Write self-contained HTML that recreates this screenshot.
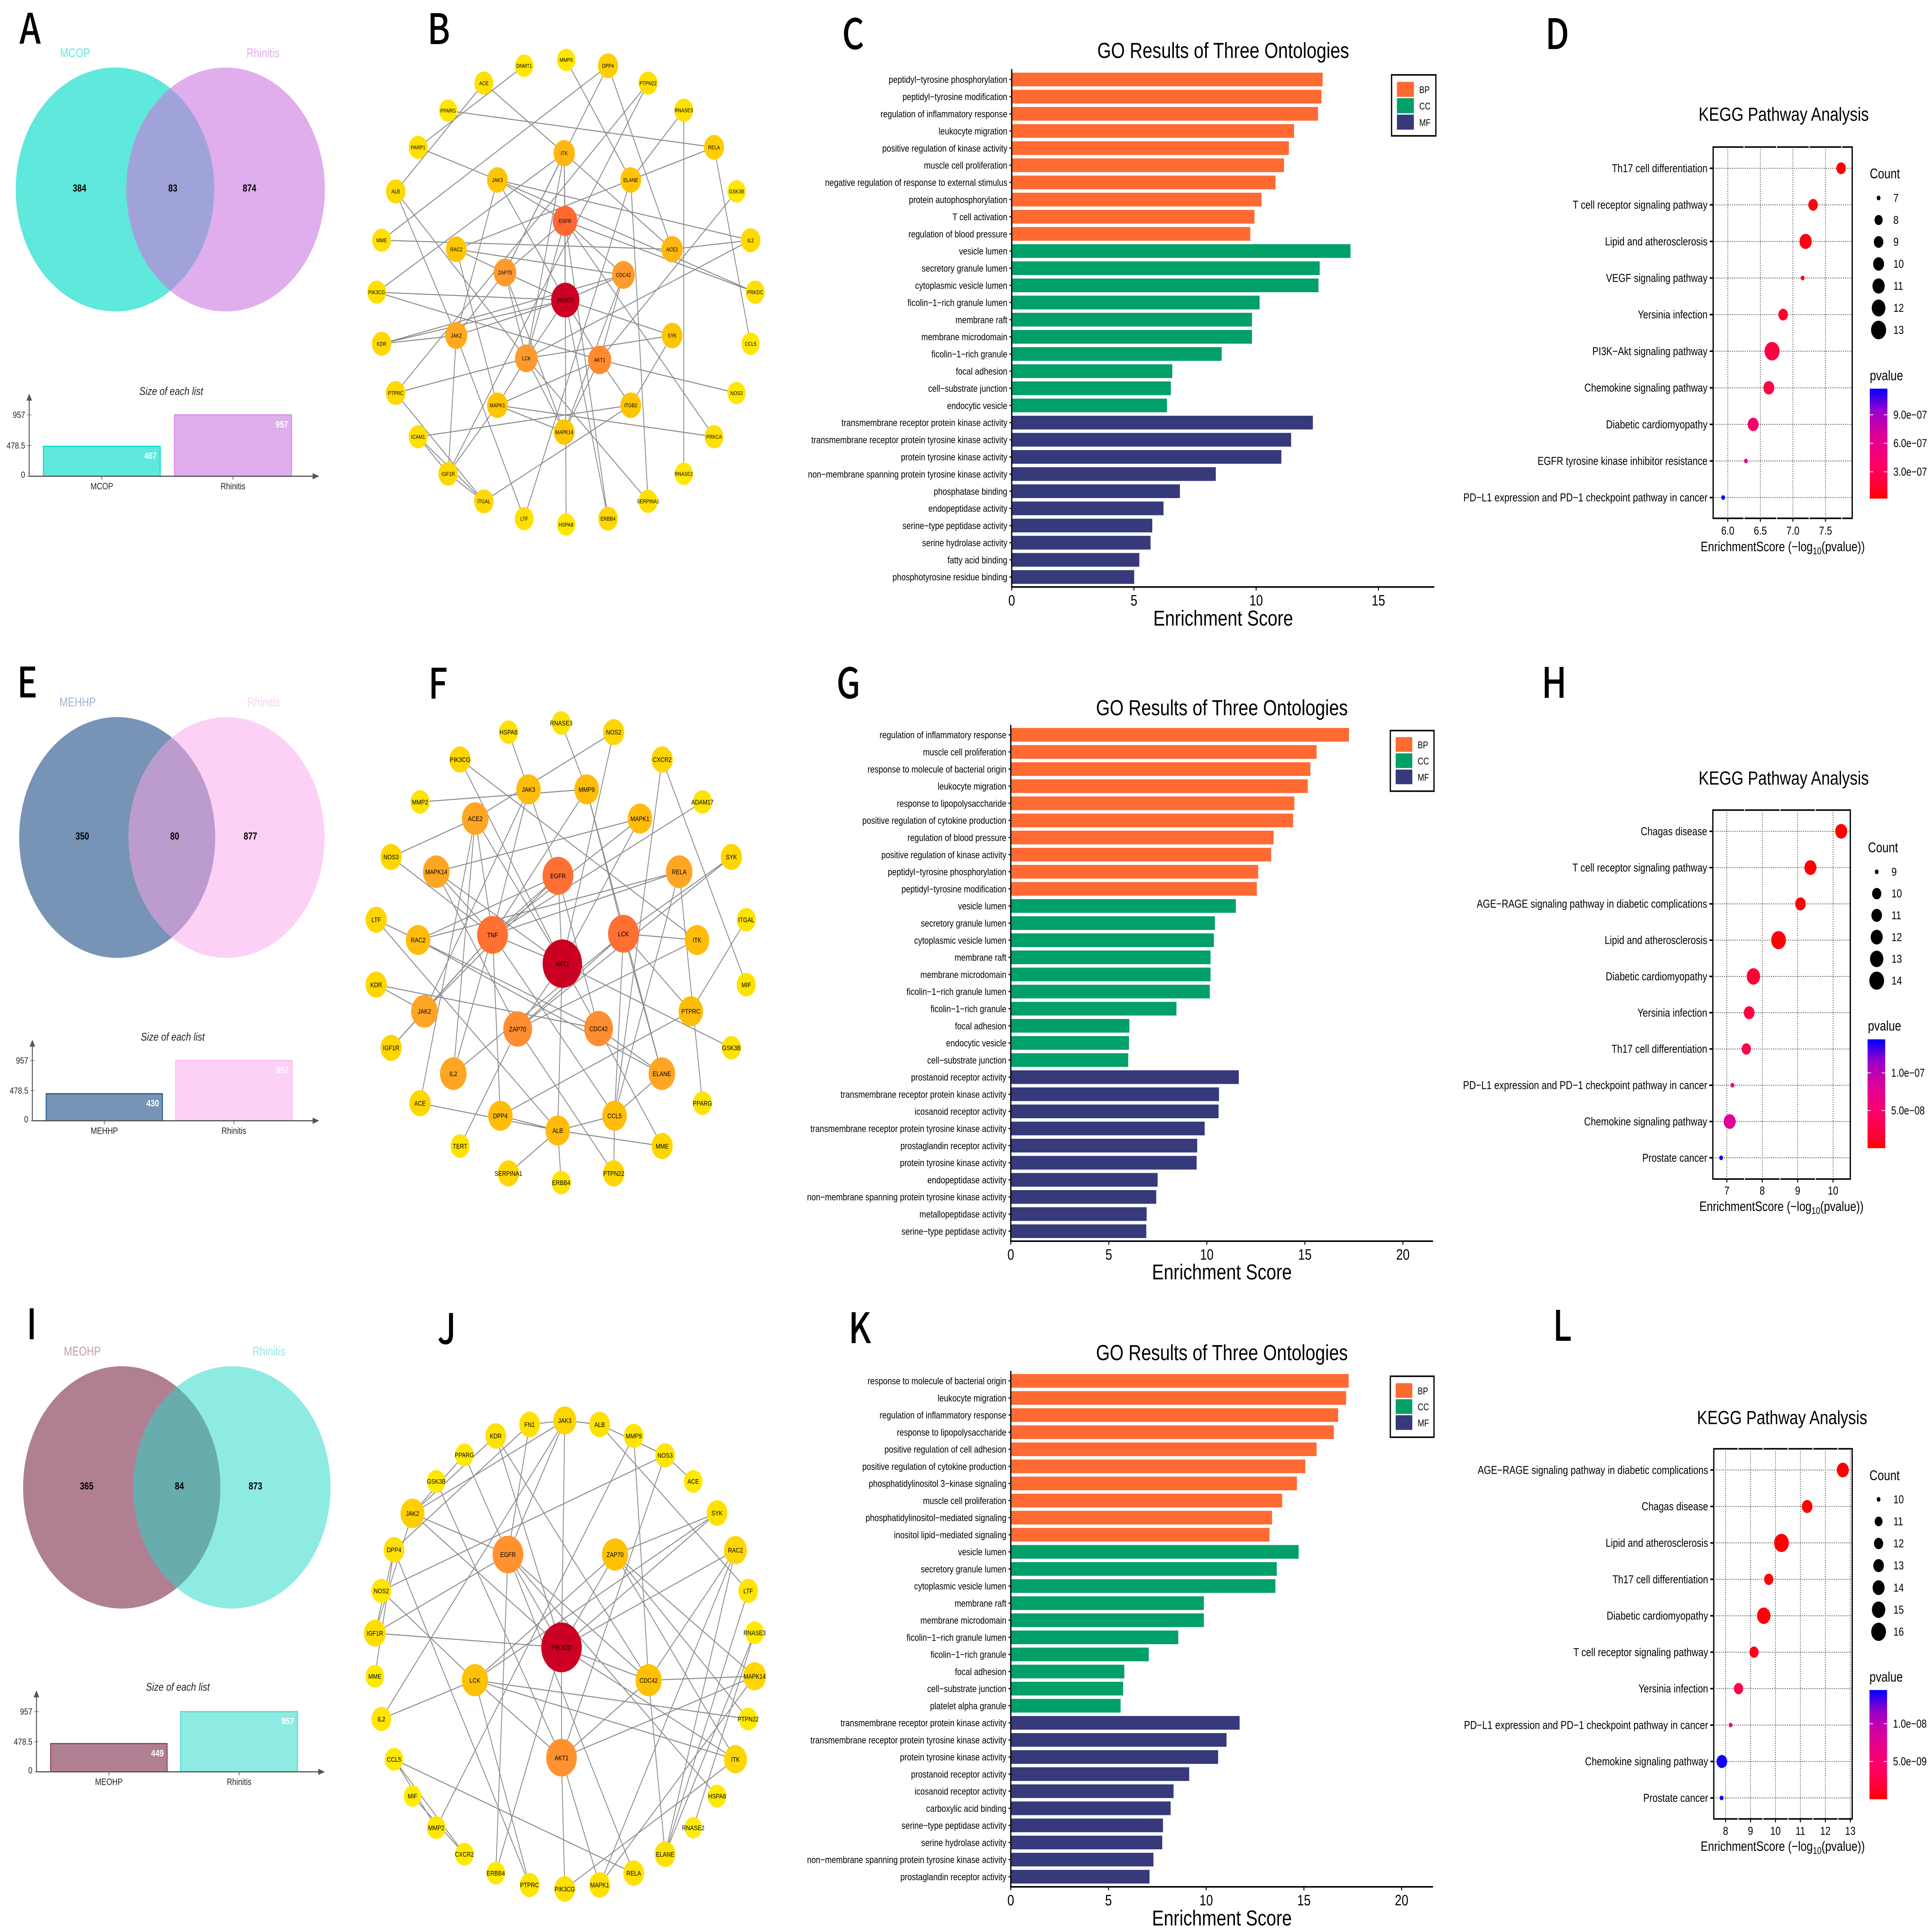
<!DOCTYPE html>
<html lang="en">
<head>
<meta charset="utf-8">
<title>Venn, PPI network, GO and KEGG figure panels</title>
<style>
html,body{margin:0;padding:0;background:#fff;width:100%;height:100%;overflow:hidden;}
svg{display:block;width:100vw;height:100vh;}
text{font-family:"Liberation Sans","Noto Sans CJK SC",sans-serif;fill:#000;}
.letter{font-family:"Noto Sans CJK SC","DejaVu Sans",sans-serif;font-size:109px;font-weight:500;}
.go-title{font-size:56.4px;text-anchor:middle;}
.go-xlabel{font-size:56px;text-anchor:middle;}
.kegg-title{font-size:49.5px;text-anchor:middle;}
.kegg-xlabel{font-size:35px;text-anchor:middle;}
.legend-title{font-size:36px;}
.venn-title{font-size:29px;font-style:italic;text-anchor:middle;fill:#222;}
</style>
</head>
<body>
<svg xmlns="http://www.w3.org/2000/svg" viewBox="0 0 6149 5006" preserveAspectRatio="none">
<defs>
<linearGradient id="pvalue-gradient" x1="0" y1="1" x2="0" y2="0">
<stop offset="0" stop-color="#FF0000"/><stop offset="0.1" stop-color="#FF0030"/><stop offset="0.3" stop-color="#FF0066"/><stop offset="0.58" stop-color="#DD0099"/><stop offset="0.8" stop-color="#9900CC"/><stop offset="1" stop-color="#0000FF"/>
</linearGradient>
</defs>
<rect x="0" y="0" width="6149" height="5006" fill="#fff"/>

<text class="letter" x="62" y="113">A</text>
<text class="letter" x="1360" y="114">B</text>
<text class="letter" x="2680" y="127">C</text>
<text class="letter" x="4918" y="127">D</text>
<text class="letter" x="54" y="1807">E</text>
<text class="letter" x="1363" y="1810">F</text>
<text class="letter" x="2662" y="1809">G</text>
<text class="letter" x="4906" y="1808">H</text>
<text class="letter" x="84" y="3470">I</text>
<text class="letter" x="1392" y="3482">J</text>
<text class="letter" x="2700" y="3480">K</text>
<text class="letter" x="4942" y="3474">L</text>

<g id="venn-a"><text class="venn-title" x="545" y="1023">Size of each list</text></g>
<g id="venn-e"><text class="venn-title" x="550" y="2696">Size of each list</text></g>
<g id="venn-i"><text class="venn-title" x="566" y="4381">Size of each list</text></g>

<g id="network-b"></g>
<g id="network-f"></g>
<g id="network-j"></g>

<g id="go-c">
<text class="go-title" x="3893" y="150">GO Results of Three Ontologies</text>
<text class="go-xlabel" x="3893" y="1621">Enrichment Score</text>
</g>
<g id="go-g">
<text class="go-title" x="3889" y="1853">GO Results of Three Ontologies</text>
<text class="go-xlabel" x="3889" y="3315">Enrichment Score</text>
</g>
<g id="go-k">
<text class="go-title" x="3889" y="3524">GO Results of Three Ontologies</text>
<text class="go-xlabel" x="3889" y="4989">Enrichment Score</text>
</g>

<g id="kegg-d">
<text class="kegg-title" x="5677" y="313">KEGG Pathway Analysis</text>
<text class="kegg-xlabel" x="5674" y="1428">EnrichmentScore (−log<tspan dy="8" font-size="25">10</tspan><tspan dy="-8">(pvalue))</tspan></text>
<text class="legend-title" x="5951" y="462">Count</text>
<text class="legend-title" x="5951" y="985">pvalue</text>
</g>
<g id="kegg-h">
<text class="kegg-title" x="5677" y="2033">KEGG Pathway Analysis</text>
<text class="kegg-xlabel" x="5670" y="3138">EnrichmentScore (−log<tspan dy="8" font-size="25">10</tspan><tspan dy="-8">(pvalue))</tspan></text>
<text class="legend-title" x="5945" y="2208">Count</text>
<text class="legend-title" x="5945" y="2670">pvalue</text>
</g>
<g id="kegg-l">
<text class="kegg-title" x="5672" y="3690">KEGG Pathway Analysis</text>
<text class="kegg-xlabel" x="5674" y="4796">EnrichmentScore (−log<tspan dy="8" font-size="25">10</tspan><tspan dy="-8">(pvalue))</tspan></text>
<text class="legend-title" x="5950" y="3835">Count</text>
<text class="legend-title" x="5950" y="4357">pvalue</text>
</g>
</svg>

<script>
/* ---------- Venn / list size data ---------- */
const vennCountsA = [384, 83, 874];
const listNamesA = ["MCOP", "Rhinitis"];
const listSizesA = [467, 957];
const vennCountsE = [350, 80, 877];
const listNamesE = ["MEHHP", "Rhinitis"];
const listSizesE = [430, 957];
const vennCountsI = [365, 84, 873];
const listNamesI = ["MEOHP", "Rhinitis"];
const listSizesI = [449, 957];
const sizeAxisTicks = [957, 478.5, 0];

/* ---------- GO data ---------- */
const goOntologies = ["BP", "CC", "MF"];
const goCategoriesC = ["peptidyl−tyrosine phosphorylation","peptidyl−tyrosine modification","regulation of inflammatory response","leukocyte migration","positive regulation of kinase activity","muscle cell proliferation","negative regulation of response to external stimulus","protein autophosphorylation","T cell activation","regulation of blood pressure","vesicle lumen","secretory granule lumen","cytoplasmic vesicle lumen","ficolin−1−rich granule lumen","membrane raft","membrane microdomain","ficolin−1−rich granule","focal adhesion","cell−substrate junction","endocytic vesicle","transmembrane receptor protein kinase activity","transmembrane receptor protein tyrosine kinase activity","protein tyrosine kinase activity","non−membrane spanning protein tyrosine kinase activity","phosphatase binding","endopeptidase activity","serine−type peptidase activity","serine hydrolase activity","fatty acid binding","phosphotyrosine residue binding"];
const goValuesC = [12.72,12.67,12.53,11.55,11.34,11.14,10.79,10.22,9.93,9.76,13.86,12.6,12.55,10.14,9.83,9.83,8.59,6.57,6.51,6.35,12.32,11.43,11.03,8.35,6.88,6.21,5.75,5.68,5.22,5.01];
const goTicksC = [0,5,10,15];
const goCategoriesG = ["regulation of inflammatory response","muscle cell proliferation","response to molecule of bacterial origin","leukocyte migration","response to lipopolysaccharide","positive regulation of cytokine production","regulation of blood pressure","positive regulation of kinase activity","peptidyl−tyrosine phosphorylation","peptidyl−tyrosine modification","vesicle lumen","secretory granule lumen","cytoplasmic vesicle lumen","membrane raft","membrane microdomain","ficolin−1−rich granule lumen","ficolin−1−rich granule","focal adhesion","endocytic vesicle","cell−substrate junction","prostanoid receptor activity","transmembrane receptor protein kinase activity","icosanoid receptor activity","transmembrane receptor protein tyrosine kinase activity","prostaglandin receptor activity","protein tyrosine kinase activity","endopeptidase activity","non−membrane spanning protein tyrosine kinase activity","metallopeptidase activity","serine−type peptidase activity"];
const goValuesG = [17.25,15.6,15.28,15.15,14.46,14.4,13.41,13.28,12.62,12.55,11.48,10.41,10.36,10.19,10.19,10.15,8.45,6.05,6.03,5.99,11.63,10.62,10.6,9.89,9.51,9.48,7.49,7.42,6.93,6.91];
const goTicksG = [0,5,10,15,20];
const goCategoriesK = ["response to molecule of bacterial origin","leukocyte migration","regulation of inflammatory response","response to lipopolysaccharide","positive regulation of cell adhesion","positive regulation of cytokine production","phosphatidylinositol 3−kinase signaling","muscle cell proliferation","phosphatidylinositol−mediated signaling","inositol lipid−mediated signaling","vesicle lumen","secretory granule lumen","cytoplasmic vesicle lumen","membrane raft","membrane microdomain","ficolin−1−rich granule lumen","ficolin−1−rich granule","focal adhesion","cell−substrate junction","platelet alpha granule","transmembrane receptor protein kinase activity","transmembrane receptor protein tyrosine kinase activity","protein tyrosine kinase activity","prostanoid receptor activity","icosanoid receptor activity","carboxylic acid binding","serine−type peptidase activity","serine hydrolase activity","non−membrane spanning protein tyrosine kinase activity","prostaglandin receptor activity"];
const goValuesK = [17.29,17.16,16.75,16.53,15.65,15.07,14.64,13.89,13.37,13.24,14.73,13.61,13.54,9.88,9.88,8.57,7.06,5.81,5.75,5.62,11.71,11.04,10.61,9.13,8.33,8.18,7.79,7.75,7.3,7.1];
const goTicksK = [0,5,10,15,20];

/* ---------- KEGG data ---------- */
const keggTermsD = ["Th17 cell differentiation","T cell receptor signaling pathway","Lipid and atherosclerosis","VEGF signaling pathway","Yersinia infection","PI3K−Akt signaling pathway","Chemokine signaling pathway","Diabetic cardiomyopathy","EGFR tyrosine kinase inhibitor resistance","PD−L1 expression and PD−1 checkpoint pathway in cancer"];
const keggScoresD = [7.74,7.31,7.195,7.15,6.85,6.68,6.63,6.39,6.28,5.93];
const keggCountsD = [9,9,11,7,9,13,10,10,7,7];
const keggTicksD = [6,6.5,7,7.5];
const keggTickLabelsD = ["6.0","6.5","7.0","7.5"];
const countLegendD = [7,8,9,10,11,12,13];
const pvalueTicksD = [9e-7,6e-7,3e-7];
const pvalueLabelsD = ["9.0e−07","6.0e−07","3.0e−07"];

const keggTermsH = ["Chagas disease","T cell receptor signaling pathway","AGE−RAGE signaling pathway in diabetic complications","Lipid and atherosclerosis","Diabetic cardiomyopathy","Yersinia infection","Th17 cell differentiation","PD−L1 expression and PD−1 checkpoint pathway in cancer","Chemokine signaling pathway","Prostate cancer"];
const keggScoresH = [10.23,9.36,9.08,8.46,7.75,7.63,7.55,7.16,7.08,6.84];
const keggCountsH = [12,12,11,14,13,11,10,9,12,9];
const keggTicksH = [7,8,9,10];
const keggTickLabelsH = ["7","8","9","10"];
const countLegendH = [9,10,11,12,13,14];
const pvalueTicksH = [1e-7,5e-8];
const pvalueLabelsH = ["1.0e−07","5.0e−08"];

const keggTermsL = ["AGE−RAGE signaling pathway in diabetic complications","Chagas disease","Lipid and atherosclerosis","Th17 cell differentiation","Diabetic cardiomyopathy","T cell receptor signaling pathway","Yersinia infection","PD−L1 expression and PD−1 checkpoint pathway in cancer","Chemokine signaling pathway","Prostate cancer"];
const keggScoresL = [12.7,11.27,10.24,9.73,9.53,9.14,8.52,8.2,7.85,7.84];
const keggCountsL = [14,13,16,12,15,12,12,10,13,10];
const keggTicksL = [8,9,10,11,12,13];
const keggTickLabelsL = ["8","9","10","11","12","13"];
const countLegendL = [10,11,12,13,14,15,16];
const pvalueTicksL = [1e-8,5e-9];
const pvalueLabelsL = ["1.0e−08","5.0e−09"];

/* ---------- Network data ---------- */
const genesB = ["PIK3CD","EGFR","AKT1","LCK","ZAP70","CDC42","JAK2","SYK","ACE2","RAC2","ITK","JAK3","ELANE","MAPK1","ITGB2","MAPK14","MMP9","DPP4","PTPN22","RNASE3","RELA","GSK3B","IL2","PRKDC","CCL5","NOS3","PRKCA","RNASE2","SERPINA1","ERBB4","HSPA8","LTF","ITGAL","IGF1R","ICAM1","PTPRC","KDR","PIK3CG","MME","ALB","PARP1","PPARG","ACE","DNMT1"];
const degreesB = [17,11,9,8,8,8,7,5,6,5,6,5,5,5,5,5,1,4,2,2,4,1,3,2,1,1,2,1,2,3,1,2,3,3,2,3,3,2,2,3,2,1,2,1];
const edgesB = ["ACE-ALB","ACE-ITK","DNMT1-PARP1","PPARG-RELA","PARP1-JAK3","DPP4-MME","DPP4-ZAP70","DPP4-ACE2","MMP9-ELANE","PTPN22-PTPRC","PTPN22-IGF1R","RNASE3-ELANE","RNASE3-RNASE2","RELA-ELANE","RELA-CCL5","GSK3B-AKT1","IL2-JAK3","IL2-ACE2","IL2-LCK","PRKDC-EGFR","JAK3-PRKDC","JAK3-EGFR","ITK-ACE2","ELANE-RAC2","ELANE-SERPINA1","ELANE-LTF","ITK-PIK3CG","ITK-EGFR","ITK-PIK3CD","ITK-LCK","ITK-ZAP70","JAK3-JAK2","JAK3-PIK3CD","ALB-LCK","ALB-JAK2","MME-ACE2","RAC2-ZAP70","RAC2-CDC42","RAC2-MAPK1","EGFR-ZAP70","EGFR-PIK3CD","EGFR-CDC42","EGFR-LCK","EGFR-ERBB4","EGFR-PRKCA","ZAP70-PIK3CD","ZAP70-JAK2","ZAP70-LCK","ZAP70-MAPK14","CDC42-PIK3CD","CDC42-KDR","CDC42-AKT1","CDC42-MAPK14","PIK3CD-KDR","PIK3CD-PIK3CG","PIK3CD-SYK","PIK3CD-AKT1","PIK3CD-LCK","PIK3CD-HSPA8","PIK3CD-ERBB4","PIK3CD-JAK2","KDR-JAK2","PIK3CG-AKT1","PTPRC-LCK","PTPRC-ITGAL","JAK2-IGF1R","JAK2-LTF","LCK-SYK","LCK-MAPK1","LCK-SERPINA1","LCK-MAPK14","AKT1-MAPK1","AKT1-MAPK14","AKT1-NOS3","AKT1-ITGB2","SYK-ITGB2","MAPK1-MAPK14","MAPK1-PRKCA","MAPK1-IGF1R","ITGB2-ICAM1","ITGB2-ITGAL","ICAM1-ITGAL","IGF1R-ITGAL","ICAM1-IGF1R"];

const genesF = ["AKT1","TNF","EGFR","LCK","ZAP70","CDC42","JAK2","ACE2","MAPK14","RELA","ELANE","IL2","JAK3","MMP9","MAPK1","ITK","RAC2","PTPRC","DPP4","ALB","CCL5","RNASE3","NOS2","CXCR2","ADAM17","SYK","ITGAL","MIF","GSK3B","PPARG","MME","PTPN22","ERBB4","SERPINA1","TERT","ACE","IGF1R","KDR","LTF","NOS3","MMP2","PIK3CG","HSPA8"];
const degreesF = [21,13,13,13,11,11,9,9,9,9,9,9,7,7,7,7,7,7,7,7,7,2,4,4,2,4,2,2,2,2,4,4,2,4,2,4,4,4,4,4,2,4,2];
const edgesF = ["HSPA8-JAK3","RNASE3-MMP9","NOS2-ACE2","NOS2-AKT1","CXCR2-MIF","CXCR2-CCL5","ADAM17-TNF","SYK-LCK","SYK-ZAP70","ITGAL-PTPRC","GSK3B-AKT1","PPARG-RELA","LCK-PTPRC","ITK-LCK","ITK-PIK3CG","ITK-ZAP70","RELA-RAC2","RELA-TNF","RELA-CCL5","MMP9-LCK","MMP9-ELANE","MMP2-MMP9","MMP9-TNF","JAK3-EGFR","JAK3-TNF","JAK3-JAK2","ACE2-NOS3","ACE2-AKT1","ACE2-TNF","ACE2-IL2","ACE2-ACE","PIK3CG-AKT1","MAPK1-MAPK14","MAPK1-AKT1","MAPK1-TNF","EGFR-RAC2","EGFR-TNF","EGFR-AKT1","EGFR-CDC42","EGFR-JAK2","IGF1R-TNF","TNF-AKT1","TNF-JAK2","TNF-IL2","TNF-DPP4","TNF-CCL5","MAPK14-AKT1","MAPK14-TNF","MAPK14-ZAP70","NOS3-TNF","LTF-RAC2","LTF-ALB","RAC2-CDC42","RAC2-ELANE","KDR-JAK2","KDR-CDC42","ACE-ALB","LCK-ZAP70","IL2-LCK","LCK-CCL5","LCK-ELANE","AKT1-CDC42","AKT1-ZAP70","AKT1-ALB","ALB-ERBB4","ZAP70-PTPN22","ZAP70-TERT","CDC42-MME","CDC42-ELANE","ELANE-CCL5","ALB-SERPINA1","ALB-DPP4","ALB-MME","CCL5-PTPN22","PTPRC-DPP4","ALB-CCL5","IGF1R-JAK2"];

const genesJ = ["PIK3CD","EGFR","AKT1","ZAP70","LCK","CDC42","JAK2","MAPK14","RAC2","ITK","JAK3","FN1","ALB","KDR","MMP9","PPARG","NOS3","GSK3B","ACE","SYK","DPP4","LTF","NOS2","RNASE3","IGF1R","MME","PTPN22","IL2","HSPA8","CCL5","RNASE2","MIF","ELANE","MMP2","RELA","CXCR2","MAPK1","ERBB4","PIK3CG","PTPRC"];
const degreesJ = [22,13,13,9,9,9,7,6,6,6,6,4,4,4,3,2,3,2,2,4,4,3,3,2,5,2,2,3,2,2,1,1,4,2,4,2,4,2,4,3];
const edgesJ = ["FN1-JAK3","JAK3-ALB","ALB-NOS3","NOS3-ACE","ALB-LTF","KDR-JAK2","PPARG-JAK2","FN1-DPP4","JAK3-JAK2","KDR-PIK3CD","KDR-CDC42","PPARG-EGFR","GSK3B-AKT1","JAK2-EGFR","JAK2-PIK3CD","DPP4-IGF1R","DPP4-PTPRC","DPP4-MME","NOS2-NOS3","NOS2-LCK","IGF1R-EGFR","IGF1R-PIK3CD","IGF1R-JAK2","IL2-LCK","IL2-JAK3","FN1-EGFR","JAK3-EGFR","JAK3-PIK3CD","MMP9-MMP2","MMP9-CDC42","NOS3-AKT1","SYK-ZAP70","SYK-LCK","SYK-PIK3CD","RAC2-PIK3CD","RAC2-CDC42","RAC2-ELANE","RAC2-MAPK1","LTF-ELANE","EGFR-PIK3CD","EGFR-CDC42","EGFR-RELA","EGFR-ERBB4","EGFR-HSPA8","ZAP70-PIK3CD","ZAP70-LCK","ZAP70-MAPK14","ZAP70-PTPN22","ZAP70-ITK","PIK3CD-CDC42","PIK3CD-ITK","PIK3CD-AKT1","PIK3CD-ERBB4","LCK-AKT1","LCK-PTPN22","LCK-ITK","LCK-PTPRC","CDC42-MAPK14","CDC42-AKT1","CDC42-ELANE","AKT1-MAPK14","AKT1-PIK3CG","AKT1-MAPK1","ITK-PIK3CG","MAPK14-MAPK1","RNASE3-RNASE2","RNASE3-ELANE","CCL5-MMP2","CCL5-CXCR2","CCL5-RELA","MIF-CXCR2"];

/* ---------- Layout (not data): network layout coordinates, parallel to gene lists ---------- */
const layoutB = [[754,762],[753,561],[881,914],[610,910],[531,692],[969,698],[351,852],[1149,852],[1149,633],[351,633],[750,389],[503,457],[996,457],[503,1029],[996,1029],[750,1097],[757,152],[912,167],[1060,211],[1192,280],[1304,374],[1387,486],[1439,610],[1456,742],[1439,873],[1387,998],[1304,1109],[1192,1203],[1060,1273],[912,1317],[757,1332],[602,1317],[453,1273],[321,1203],[210,1109],[127,998],[75,873],[57,742],[75,610],[127,486],[210,374],[321,281],[453,211],[602,167]];
const layoutF = [[743,833],[485,755],[727,595],[969,752],[578,1010],[877,1009],[233,962],[421,440],[277,584],[1175,584],[1111,1131],[340,1131],[618,361],[833,361],[1030,440],[1241,769],[210,769],[1218,962],[514,1245],[726,1285],[936,1245],[739,181],[933,206],[1112,280],[1261,395],[1368,544],[1423,714],[1423,890],[1368,1061],[1261,1211],[1112,1327],[933,1401],[739,1426],[544,1401],[365,1327],[217,1211],[110,1061],[55,890],[55,714],[110,544],[217,395],[365,280],[544,206]];
const layoutJ = [[740,848],[542,613],[740,1127],[938,613],[420,931],[1062,931],[189,509],[1454,921],[1383,602],[1383,1131],[752,274],[622,284],[881,284],[497,313],[1007,313],[381,361],[1123,362],[277,428],[1227,428],[1315,508],[121,601],[1430,705],[74,705],[1454,811],[50,812],[50,921],[1430,1029],[74,1029],[1315,1224],[121,1131],[1227,1304],[189,1224],[1123,1371],[277,1304],[1007,1419],[381,1371],[881,1449],[497,1419],[752,1459],[622,1449]];

const SVGNS = "http://www.w3.org/2000/svg";
const goColors = ["#FF6A33", "#00A068", "#363A7B"];
const pvalueStops = [[0,"#FF0000"],[0.1,"#FF0030"],[0.3,"#FF0066"],[0.58,"#DD0099"],[0.8,"#9900CC"],[1,"#0000FF"]];
const degreeStops = [[0,"#FFEE00"],[0.15,"#FFDC00"],[0.3,"#FFC400"],[0.45,"#FFA02A"],[0.55,"#FF8633"],[0.65,"#FF6633"],[1,"#CC0022"]];

function make(tag, attrs, parent) {
  const node = document.createElementNS(SVGNS, tag);
  for (const k in attrs) node.setAttribute(k, attrs[k]);
  parent.appendChild(node);
  return node;
}
function hexToRgb(h) { return [parseInt(h.slice(1,3),16), parseInt(h.slice(3,5),16), parseInt(h.slice(5,7),16)]; }
function rampColor(stops, t) {
  t = Math.max(0, Math.min(1, t));
  for (let i = 1; i < stops.length; i++) {
    if (t <= stops[i][0]) {
      const f = (t - stops[i-1][0]) / (stops[i][0] - stops[i-1][0]);
      const a = hexToRgb(stops[i-1][1]), b = hexToRgb(stops[i][1]);
      return "rgb(" + a.map((v, k) => Math.round(v + (b[k] - v) * f)).join(",") + ")";
    }
  }
  return stops[stops.length-1][1];
}

/* ---------- Venn + list-size bars ---------- */
function drawVenn(hostId, counts, names, sizes, L) {
  const host = document.getElementById(hostId);
  const clipId = hostId + "-clip";
  const defs = make("clipPath", {id: clipId}, host);
  make("circle", {cx: L.cL, cy: L.cy, r: L.r}, defs);

  const left = make("circle", {cx: L.cL, cy: L.cy, r: L.r, fill: L.colorL}, host);
  
  
  const right = make("circle", {cx: L.cR, cy: L.cy, r: L.r, fill: L.colorR}, host);
  
  
  const overlap = make("circle", {cx: L.cR, cy: L.cy, r: L.r, fill: L.colorO, "clip-path": "url(#" + clipId + ")"}, host);
  
  

  counts.forEach((c, i) => {
    const t = make("text", {x: L.countX[i], y: L.cy + 5, "font-size": 26, "font-weight": "bold", "text-anchor": "middle"}, host);
    t.textContent = c;
    
    
  });
  names.forEach((n, i) => {
    const t = make("text", {x: L.nameX[i], y: L.nameY, "font-size": 32, "text-anchor": "middle", style: "fill:" + (i ? L.colorR : L.nameColorL)}, host);
    t.textContent = n;
    
    
  });

  const maxV = sizeAxisTicks[0];
  const yOf = v => L.base - v / maxV * (L.base - L.yMax);
  sizes.forEach((v, i) => {
    const b = make("rect", {x: L.bars[i][0], y: yOf(v), width: L.bars[i][1] - L.bars[i][0], height: L.base - yOf(v), fill: i ? L.colorR : L.colorL, stroke: L.barStroke[i], "stroke-width": 3}, host);
    
    
    const val = make("text", {x: L.bars[i][1] - 11, y: yOf(v) + 33, "font-size": 24, "font-weight": "bold", "text-anchor": "end", style: "fill:#fff"}, host);
    val.textContent = v;
    
    
    const mid = (L.bars[i][0] + L.bars[i][1]) / 2;
    const tk = make("line", {x1: mid, x2: mid, y1: L.base, y2: L.base + 9, stroke: "#555", "stroke-width": 2}, host);
    
    
    const lab = make("text", {x: mid, y: L.base + 34, "font-size": 24, "text-anchor": "middle", style: "fill:#222"}, host);
    lab.textContent = names[i];
    
    
  });
  sizeAxisTicks.forEach(v => {
    const tk = make("line", {x1: L.ax - 7, x2: L.ax + 7, y1: yOf(v), y2: yOf(v), stroke: "#888", "stroke-width": 2}, host);
    
    
    const lab = make("text", {x: L.ax - 13, y: yOf(v) + (v ? 8 : 4), "font-size": 23.6, "text-anchor": "end", style: "fill:#222"}, host);
    lab.textContent = v;
    
    
  });
  const yAxis = make("line", {x1: L.ax, x2: L.ax, y1: L.base, y2: L.top + 12, stroke: "#555", "stroke-width": 3}, host);
  
  
  const xAxis = make("line", {x1: L.ax, x2: L.right - 12, y1: L.base, y2: L.base, stroke: "#555", "stroke-width": 3}, host);
  
  
  const up = make("polygon", {points: L.ax + "," + L.top + " " + (L.ax - 9) + "," + (L.top + 18) + " " + (L.ax + 9) + "," + (L.top + 18), fill: "#555"}, host);
  
  
  const rt = make("polygon", {points: L.right + "," + L.base + " " + (L.right - 21) + "," + (L.base - 8) + " " + (L.right - 21) + "," + (L.base + 8), fill: "#555"}, host);
  
  
}

/* ---------- Network ---------- */
function drawNetwork(hostId, genes, degrees, edges, layout, L) {
  const host = document.getElementById(hostId);
  const px = i => L.ox + layout[i][0] / L.kx;
  const py = i => L.oy + layout[i][1] / L.ky;
  const maxDeg = Math.max.apply(null, degrees);
  edges.forEach(e => {
    const parts = e.split("-");
    const a = genes.indexOf(parts[0]), b = genes.indexOf(parts[1]);
    const ln = make("line", {x1: px(a), y1: py(a), x2: px(b), y2: py(b), stroke: "#8A8A8A", "stroke-width": 2.6}, host);
    
    
  });
  genes.forEach((g, i) => {
    const d = L.dBase + L.dPer * degrees[i];
    const t01 = Math.pow(degrees[i] / maxDeg, L.gamma);
    const c = make("circle", {cx: px(i), cy: py(i), r: d / 2, fill: rampColor(degreeStops, t01)}, host);
    
    
    const t = make("text", {x: px(i), y: py(i) + L.font * 0.36, "font-size": L.font, "text-anchor": "middle"}, host);
    t.textContent = g;
    
    
  });
}

/* ---------- GO bar chart ---------- */
function drawGO(hostId, cats, vals, ticks, L) {
  const host = document.getElementById(hostId);
  const xOf = v => L.x0 + v * L.unit;
  const yOf = i => L.y0 + i * L.step;
  vals.forEach((v, i) => {
    const b = make("rect", {x: L.x0, y: yOf(i) - L.step * 0.4, width: xOf(v) - L.x0, height: L.step * 0.8, fill: goColors[Math.floor(i / 10)]}, host);
    
    
    const tk = make("line", {x1: L.x0 - 7, x2: L.x0, y1: yOf(i), y2: yOf(i), stroke: "#000", "stroke-width": 3}, host);
    
    
    const t = make("text", {x: L.x0 - 14, y: yOf(i) + 9, "font-size": 25.4, "text-anchor": "end"}, host);
    t.textContent = cats[i];
    
    
  });
  const yAxis = make("line", {x1: L.x0, x2: L.x0, y1: L.yTop, y2: L.axisY + 2, stroke: "#000", "stroke-width": 4}, host);
  
  
  const xAxis = make("line", {x1: L.x0 - 2, x2: L.xEnd, y1: L.axisY, y2: L.axisY, stroke: "#000", "stroke-width": 4}, host);
  
  
  ticks.forEach(v => {
    const tk = make("line", {x1: xOf(v), x2: xOf(v), y1: L.axisY, y2: L.axisY + 9, stroke: "#000", "stroke-width": 3}, host);
    
    
    const t = make("text", {x: xOf(v), y: L.tickY, "font-size": 38.7, "text-anchor": "middle"}, host);
    t.textContent = v;
    
    
  });
  const box = make("rect", {x: L.boxX, y: L.boxY, width: L.boxW, height: L.boxH, fill: "#fff", stroke: "#000", "stroke-width": 4}, host);
  
  
  goOntologies.forEach((o, k) => {
    const y = L.swY + k * L.swStep;
    const s = make("rect", {x: L.swX, y: y, width: L.swW, height: L.swH, fill: goColors[k]}, host);
    
    
    const t = make("text", {x: L.swX + L.swW + 17, y: y + L.swH / 2 + 10, "font-size": 25}, host);
    t.textContent = o;
    
    
  });
}

/* ---------- KEGG dot plot ---------- */
function drawKegg(hostId, terms, scores, counts, ticks, tickLabels, countLegend, pTicks, pLabels, L) {
  const host = document.getElementById(hostId);
  const xOf = v => L.px0 + (v - L.v0) * L.unit;
  const yOf = i => L.y0 + i * L.step;
  const cMin = Math.min.apply(null, countLegend), cMax = Math.max.apply(null, countLegend);
  const rOf = c => c <= cMin ? 6 : L.rMax - 2.2 * (cMax - c);
  const pvals = scores.map(s => Math.pow(10, -s));
  const pMin = Math.min.apply(null, pvals), pMax = Math.max.apply(null, pvals);
  const tOf = p => (p - pMin) / (pMax - pMin);

  ticks.forEach(v => {
    const g = make("line", {x1: xOf(v), x2: xOf(v), y1: L.y1, y2: L.y2, stroke: "#000", "stroke-width": 2, "stroke-dasharray": "2 4"}, host);
    
    
  });
  terms.forEach((term, i) => {
    const g = make("line", {x1: L.x1, x2: L.x2, y1: yOf(i), y2: yOf(i), stroke: "#000", "stroke-width": 2, "stroke-dasharray": "2 4"}, host);
    
    
    const tk = make("line", {x1: L.x1 - 11, x2: L.x1, y1: yOf(i), y2: yOf(i), stroke: "#000", "stroke-width": 4}, host);
    
    
    const t = make("text", {x: L.x1 - 18, y: yOf(i) + 10, "font-size": 29.5, "text-anchor": "end"}, host);
    t.textContent = term;
    
    
  });
  scores.forEach((s, i) => {
    const pt = make("circle", {cx: xOf(s), cy: yOf(i), r: rOf(counts[i]), fill: rampColor(pvalueStops, tOf(pvals[i]))}, host);
    
    
  });
  const frame = make("rect", {x: L.x1, y: L.y1, width: L.x2 - L.x1, height: L.y2 - L.y1, fill: "none", stroke: "#000", "stroke-width": 4}, host);
  
  
  ticks.forEach((v, i) => {
    const gap = (ticks.length > 1 ? ticks[1] - ticks[0] : 1) / 2;
    const mx = xOf(v + gap);
    if (mx < L.x2) {
      [L.y1, L.y2].forEach(yy => {
        const w = make("line", {x1: mx, x2: mx, y1: yy - 3, y2: yy + 3, stroke: "#fff", "stroke-width": 3}, host);
        
        
      });
    }
    const tk = make("line", {x1: xOf(v), x2: xOf(v), y1: L.y2, y2: L.y2 + 9, stroke: "#000", "stroke-width": 3}, host);
    
    
    const t = make("text", {x: xOf(v), y: L.tickY, "font-size": 30, "text-anchor": "middle"}, host);
    t.textContent = tickLabels[i];
    
    
  });
  countLegend.forEach((c, i) => {
    const y = L.legY + i * L.legStep;
    const k = make("circle", {cx: L.legX, cy: y, r: rOf(c), fill: "#000"}, host);
    
    
    const t = make("text", {x: L.legX + 47, y: y + 10, "font-size": 30}, host);
    t.textContent = c;
    
    
  });
  const bar = make("rect", {x: L.cbX, y: L.cbY, width: 56, height: L.cbH, fill: "url(#pvalue-gradient)"}, host);
  
  
  pTicks.forEach((p, i) => {
    const y = L.cbY + L.cbH - tOf(p) * L.cbH;
    const a = make("line", {x1: L.cbX, x2: L.cbX + 11, y1: y, y2: y, stroke: "#fff", "stroke-width": 2}, host);
    
    
    const b = make("line", {x1: L.cbX + 45, x2: L.cbX + 56, y1: y, y2: y, stroke: "#fff", "stroke-width": 2}, host);
    
    
    const t = make("text", {x: L.cbX + 75, y: y + 10, "font-size": 29.4}, host);
    t.textContent = pLabels[i];
    
    
  });
}

/* ---------- Render ---------- */
drawVenn("venn-a", vennCountsA, listNamesA, listSizesA, {cL:366,cR:718,cy:491,r:316,colorL:"#5FE8DC",nameColorL:"#5FE8DC",colorR:"#E0AEEC",colorO:"#A0A3DA",countX:[253,550,794],nameX:[239,837],nameY:148,base:1234,yMax:1075,top:1020,ax:93,right:1016,bars:[[138,510],[555,928]],barStroke:["#00DDCC","#DB8BE8"]});
drawVenn("venn-e", vennCountsE, listNamesE, listSizesE, {cL:373,cR:721,cy:2170,r:312,colorL:"#7793B5",nameColorL:"#9DB4D2",colorR:"#FDD1F6",colorO:"#BC9CCF",countX:[262,556,797],nameX:[247,840],nameY:1830,base:2904,yMax:2748,top:2694,ax:103,right:1016,bars:[[147,517],[559,930]],barStroke:["#215A90","#FDB8F0"]});
drawVenn("venn-i", vennCountsI, listNamesI, listSizesI, {cL:387.5,cR:738,cy:3854,r:314,colorL:"#B17F92",nameColorL:"#C598A9",colorR:"#8EEBE1",colorO:"#68ACAD",countX:[276,571,813],nameX:[262,856],nameY:3512,base:4591,yMax:4435,top:4380,ax:116,right:1034,bars:[[161,532],[575,947]],barStroke:["#8B3F5F","#40E0D0"]});

drawNetwork("network-b", genesB, degreesB, edgesB, layoutB, {ox:1150,oy:0,kx:1.1615,ky:0.98,dBase:56,dPer:2,gamma:1,font:14.5});
drawNetwork("network-f", genesF, degreesF, edgesF, layoutF, {ox:1150,oy:1700,kx:1.1615,ky:1.0453,dBase:54,dPer:3.4,gamma:1,font:17.8});
drawNetwork("network-j", genesJ, degreesJ, edgesJ, layoutJ, {ox:1150,oy:3400,kx:1.1615,ky:0.9763,dBase:52,dPer:3.5,gamma:1.3,font:17.8});

drawGO("go-c", goCategoriesC, goValuesC, goTicksC, {x0:3220,unit:77.8,xEnd:4565,yTop:179,axisY:1521,y0:206,step:44.45,tickY:1569,boxX:4429,boxY:194,boxW:141,boxH:158,swX:4446,swW:54,swY:212,swStep:42.5,swH:39});
drawGO("go-g", goCategoriesG, goValuesG, goTicksG, {x0:3217,unit:62.4,xEnd:4561,yTop:1878,axisY:3216,y0:1904,step:44.35,tickY:3264,boxX:4425,boxY:1893,boxW:139,boxH:157,swX:4442,swW:53,swY:1910,swStep:42,swH:38});
drawGO("go-k", goCategoriesK, goValuesK, goTicksK, {x0:3217,unit:62.2,xEnd:4561,yTop:3552,axisY:4889,y0:3578,step:44.3,tickY:4937,boxX:4425,boxY:3566,boxW:139,boxH:158,swX:4442,swW:53,swY:3584,swStep:41.5,swH:38});

drawKegg("kegg-d", keggTermsD, keggScoresD, keggCountsD, keggTicksD, keggTickLabelsD, countLegendD, pvalueTicksD, pvalueLabelsD, {x1:5452.5,x2:5895,y1:381,y2:1343,px0:5499,v0:6,unit:207.3,y0:436,step:94.8,tickY:1385,rMax:24,legX:5979,legY:513,legStep:57,cbX:5951,cbY:1007,cbH:285});
drawKegg("kegg-h", keggTermsH, keggScoresH, keggCountsH, keggTicksH, keggTickLabelsH, countLegendH, pvalueTicksH, pvalueLabelsH, {x1:5451.5,x2:5889,y1:2099,y2:3055,px0:5496,v0:7,unit:112.7,y0:2154,step:94,tickY:3095,rMax:23.5,legX:5973,legY:2259,legStep:56.4,cbX:5944,cbY:2693,cbH:282});
drawKegg("kegg-l", keggTermsL, keggScoresL, keggCountsL, keggTicksL, keggTickLabelsL, countLegendL, pvalueTicksL, pvalueLabelsL, {x1:5454.5,x2:5895,y1:3754,y2:4713,px0:5492,v0:8,unit:79.4,y0:3809,step:94.4,tickY:4754,rMax:23.5,legX:5979,legY:3885,legStep:57.2,cbX:5950,cbY:4379,cbH:283});
</script>
</body>
</html>
